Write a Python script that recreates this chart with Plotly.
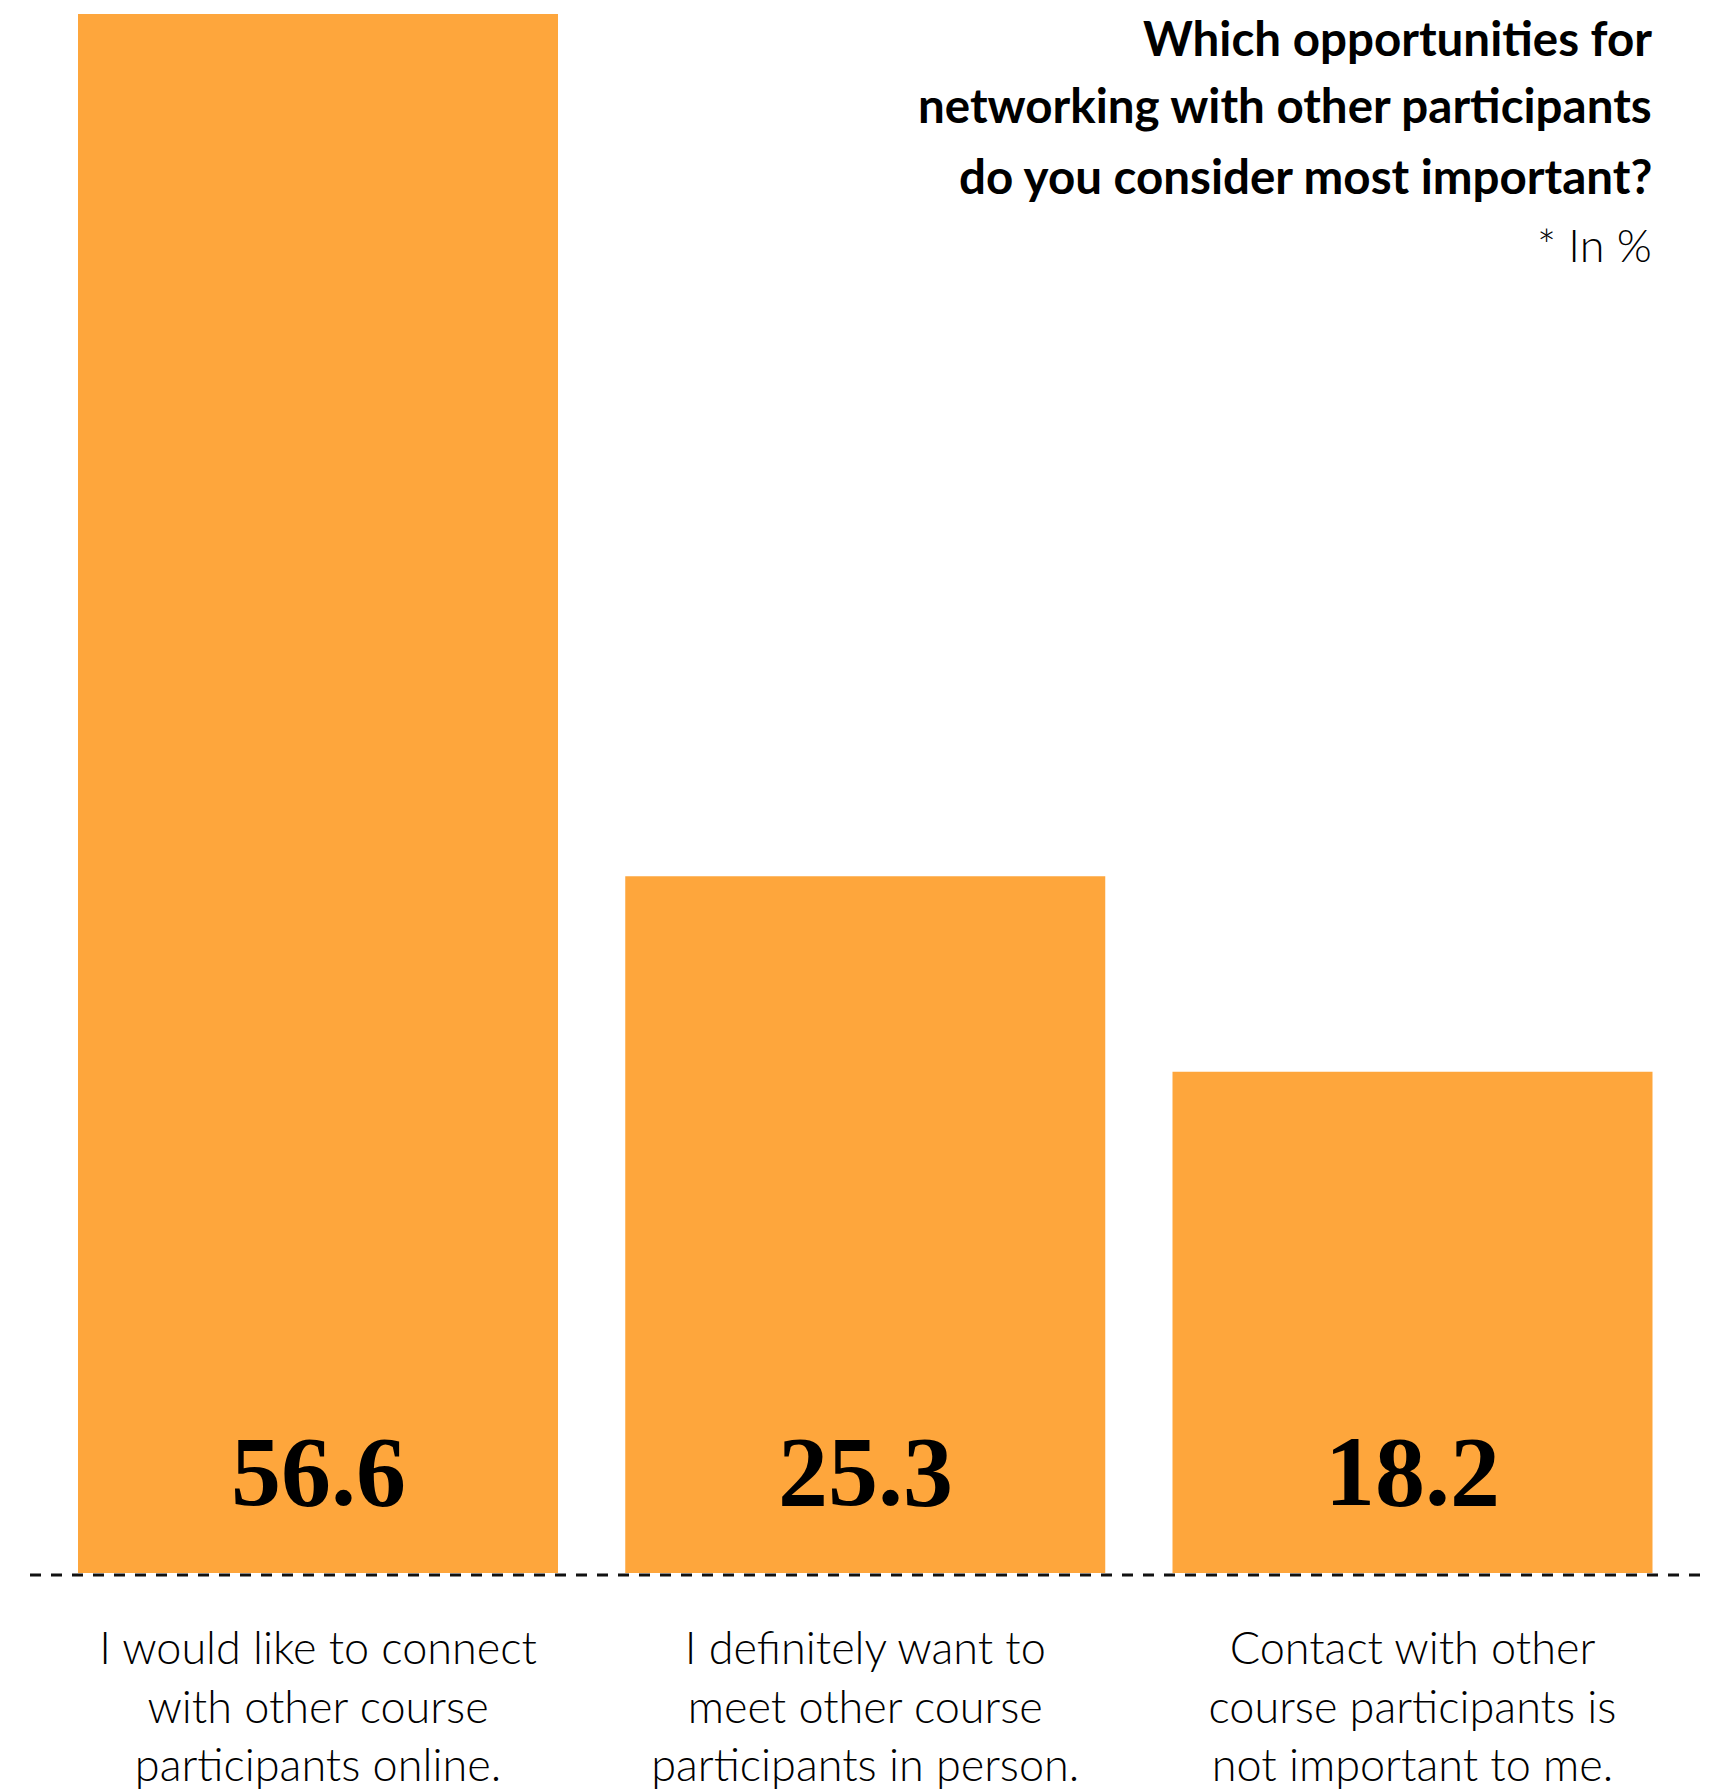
import plotly.graph_objects as go

categories = [
    "I would like to connect<br>with other course<br>participants online.",
    "I definitely want to<br>meet other course<br>participants in person.",
    "Contact with other<br>course participants is<br>not important to me.",
]
values = [56.6, 25.3, 18.2]
value_labels = ["56.6", "25.3", "18.2"]
title_lines = [
    "Which opportunities for",
    "networking with other participants",
    "do you consider most important?",
]
subtitle = "* In %"

ORANGE = "#FEA63C"
W, H = 1726, 1792
OFF = 8  # page body margin
# target page coordinates
base_page = 1573
extra_below = 6  # px of plot area below the bar baseline (room for the dashed line)
left_page, right_page = 30, 1705
bar0_center_page = 318
px_per_cat = 547.25
px_per_unit = (1573 - 14) / 56.6

ml = left_page - OFF
mr = W - (right_page - OFF)
mt = 0
mb = H - (base_page - OFF) - extra_below
plot_w = W - ml - mr
plot_h = H - mt - mb
x0 = -(bar0_center_page - left_page) / px_per_cat
x1 = x0 + plot_w / px_per_cat
ylo = -extra_below / px_per_unit
yhi = ylo + plot_h / px_per_unit


def px_to_paper_x(xp):
    return (xp - OFF - ml) / plot_w


def px_to_paper_y(yp):
    return ((base_page + extra_below - OFF) - (yp - OFF)) / plot_h


fig = go.Figure()
fig.add_trace(go.Bar(
    x=list(range(len(categories))), y=values,
    marker=dict(color=ORANGE, line=dict(width=0)),
    width=480 / px_per_cat,
    hoverinfo="skip",
))

for i, (v, lab) in enumerate(zip(values, value_labels)):
    fig.add_annotation(
        x=i, y=0, xref="x", yref="y", text=lab, showarrow=False,
        yanchor="middle", yshift=102,
        font=dict(family="Liberation Serif", size=100, color="#000000", weight="bold"),
    )

title_y = [37, 105, 175]
for t, yy in zip(title_lines, title_y):
    fig.add_annotation(
        x=px_to_paper_x(1654), y=px_to_paper_y(yy), xref="paper", yref="paper",
        text=t, showarrow=False, xanchor="right", yanchor="middle",
        font=dict(family="Lato", size=47.5, color="#000000", weight="bold"),
    )
fig.add_annotation(
    x=px_to_paper_x(1654), y=px_to_paper_y(245), xref="paper", yref="paper",
    text=subtitle, showarrow=False, xanchor="right", yanchor="middle",
    font=dict(family="Lato", size=45, color="#000000", weight=300),
)

line_y = -2 / px_per_unit
fig.add_shape(
    type="line", xref="paper", yref="y", x0=0, x1=1, y0=line_y, y1=line_y,
    line=dict(color="#111111", width=3, dash="11px,10px"), layer="above",
)

fig.update_layout(
    width=W, height=H,
    margin=dict(l=ml, r=mr, t=mt, b=mb, pad=0),
    paper_bgcolor="white", plot_bgcolor="white",
    showlegend=False,
    xaxis=dict(
        range=[x0, x1], tickmode="array",
        tickvals=list(range(len(categories))), ticktext=categories,
        showgrid=False, zeroline=False, showline=False, ticks="",
        tickfont=dict(family="Lato", size=45, color="#000000", weight=300),
        ticklabelstandoff=45 - extra_below,
    ),
    yaxis=dict(range=[ylo, yhi], visible=False, showgrid=False, zeroline=False),
)

fig.write_html("out.html")
